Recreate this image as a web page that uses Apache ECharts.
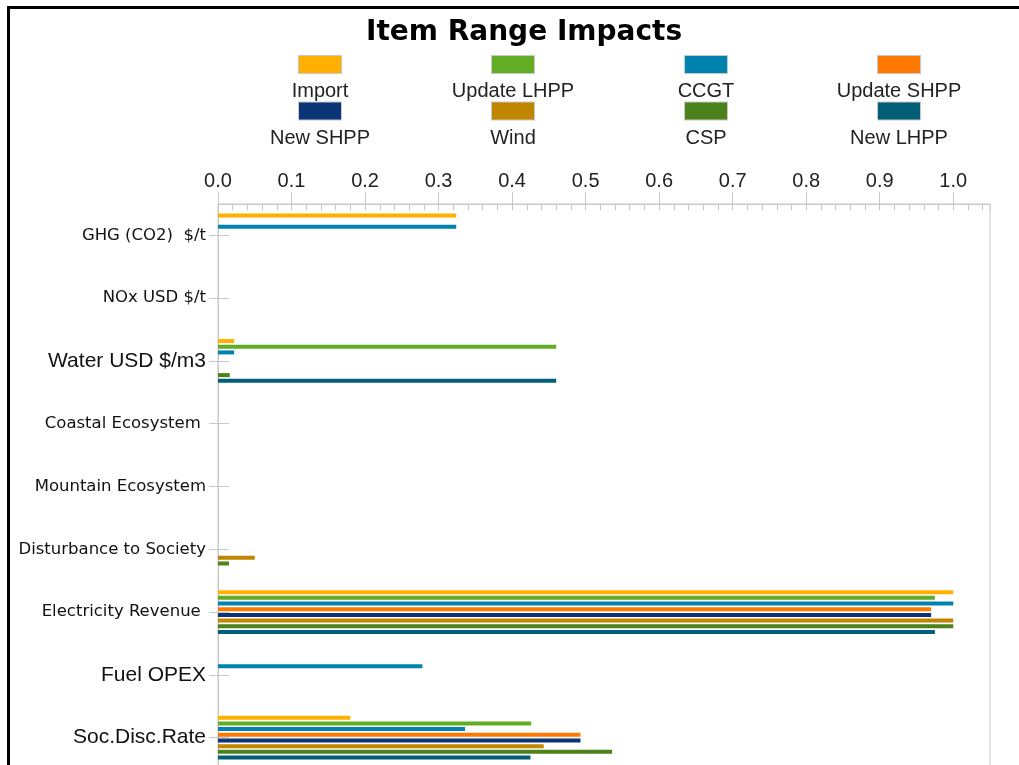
<!DOCTYPE html>
<html>
<head>
<meta charset="utf-8">
<title>Item Range Impacts</title>
<script src="https://cdn.jsdelivr.net/npm/echarts@6/dist/echarts.min.js"></script>
<style>
* { margin: 0; padding: 0; }
body { width: 1019px; height: 765px; overflow: hidden; background: #fff; position: relative; }
/* black frame, top and left edges only */
#frame { position: absolute; left: 7px; top: 6px; width: 1030px; height: 800px; border-left: 3px solid #000; border-top: 3px solid #000; }
#main { position: absolute; left: 0; top: 0; width: 1019px; height: 765px; }
</style>
</head>
<body>
<div id="frame"></div>
<div id="main"></div>
<script>
// categories, top to bottom
const categories = [
  "GHG (CO2)  $/t",
  "NOx USD $/t",
  "Water USD $/m3",
  "Coastal Ecosystem ",
  "Mountain Ecosystem",
  "Disturbance to Society",
  "Electricity Revenue ",
  "Fuel OPEX",
  "Soc.Disc.Rate"
];
// labels drawn in the larger sans font
const bigLabels = ["Water USD $/m3", "Fuel OPEX", "Soc.Disc.Rate"];

const seriesNames = ["Import", "Update LHPP", "CCGT", "Update SHPP", "New SHPP", "Wind", "CSP", "New LHPP"];
const seriesColors = ["#FFB000", "#62AD24", "#0083AF", "#FF7800", "#0B3576", "#C08600", "#4B8219", "#005F77"];

// values per category (same order as categories)
const importVals     = [0.324, 0, 0.022, 0, 0, 0, 1.0, 0, 0.18];
const updateLhppVals = [0, 0, 0.46, 0, 0, 0, 0.975, 0, 0.426];
const ccgtVals       = [0.324, 0, 0.022, 0, 0, 0, 1.0, 0.278, 0.336];
const updateShppVals = [0, 0, 0, 0, 0, 0, 0.97, 0, 0.493];
const newShppVals    = [0, 0, 0, 0, 0, 0, 0.97, 0, 0.493];
const windVals       = [0, 0, 0, 0, 0, 0.05, 1.0, 0, 0.443];
const cspVals        = [0, 0, 0.016, 0, 0, 0.015, 1.0, 0, 0.536];
const newLhppVals    = [0, 0, 0.46, 0, 0, 0, 0.975, 0, 0.425];

const allVals = [importVals, updateLhppVals, ccgtVals, updateShppVals, newShppVals, windVals, cspVals, newLhppVals];

// x axis
const xMin = 0, xMax = 1.05, xStep = 0.1, xMinorStep = 0.02;

const chart = echarts.init(document.getElementById("main"));

// legend rich styles: a coloured box above each name
const legendRich = {
  t: { width: 188, align: "center", fontSize: 20, fontFamily: "Liberation Sans", color: "#222", lineHeight: 37 }
};
seriesColors.forEach((c, i) => {
  legendRich["b" + i] = { width: 42, height: 17, lineHeight: 17, backgroundColor: c, borderColor: "#c8c8c8", borderWidth: 1, align: "center" };
});

const axisGray = "#c8c8c8";

chart.setOption({
  animation: false,
  title: {
    text: "Item Range Impacts",
    left: 361,
    top: 14,
    textStyle: { fontFamily: "DejaVu Sans", fontWeight: "bold", fontSize: 28, color: "#000" }
  },
  legend: {
    left: 216,
    top: 50,
    width: 790,
    itemGap: 0,
    itemWidth: 0,
    itemHeight: 0,
    icon: "rect",
    selectedMode: false,
    data: seriesNames,
    formatter: name => `{b${seriesNames.indexOf(name)}|}\n{t|${name}}`,
    textStyle: { rich: legendRich }
  },
  grid: {
    left: 218,
    right: 29,
    top: 204,
    height: 565,
    show: true,
    borderColor: axisGray,
    borderWidth: 1,
    outerBoundsMode: "none"
  },
  xAxis: [
    {
      type: "value",
      position: "top",
      min: xMin,
      max: xMax,
      interval: xStep,
      axisLine: { show: true, lineStyle: { color: axisGray } },
      axisTick: { show: true, length: 12, lineStyle: { color: axisGray } },
      splitLine: { show: false },
      axisLabel: {
        margin: 13,
        showMaxLabel: false,
        fontSize: 20,
        fontFamily: "Liberation Sans",
        color: "#222",
        formatter: v => v.toFixed(1)
      }
    },
    {
      // minor ticks hanging below the top axis
      type: "value",
      position: "top",
      min: xMin,
      max: xMax,
      interval: xMinorStep,
      axisLine: { show: false },
      axisTick: { show: true, inside: true, length: 6, lineStyle: { color: axisGray } },
      splitLine: { show: false },
      axisLabel: { show: false }
    }
  ],
  yAxis: [
    {
      type: "category",
      inverse: true,
      data: categories,
      axisLine: { show: true, lineStyle: { color: axisGray } },
      axisTick: { show: true, alignWithLabel: true, length: 9, lineStyle: { color: axisGray } },
      axisLabel: {
        margin: 12,
        formatter: v => bigLabels.includes(v) ? `{a|${v}}` : `{b|${v}}`,
        rich: {
          a: { fontSize: 21, fontFamily: "Liberation Sans", color: "#111" },
          b: { fontSize: 16.5, fontFamily: "DejaVu Sans", color: "#111" }
        }
      }
    },
    {
      // ticks on the inner side of the category axis
      type: "category",
      inverse: true,
      position: "left",
      data: categories,
      axisLine: { show: false },
      axisTick: { show: true, inside: true, alignWithLabel: true, length: 11, lineStyle: { color: axisGray } },
      axisLabel: { show: false }
    }
  ],
  series: seriesNames.map((name, i) => ({
    name: name,
    type: "bar",
    xAxisIndex: 0,
    yAxisIndex: 0,
    barWidth: 4,
    barGap: "42%",
    itemStyle: { color: seriesColors[i] },
    data: allVals[i]
  }))
});
</script>
</body>
</html>
